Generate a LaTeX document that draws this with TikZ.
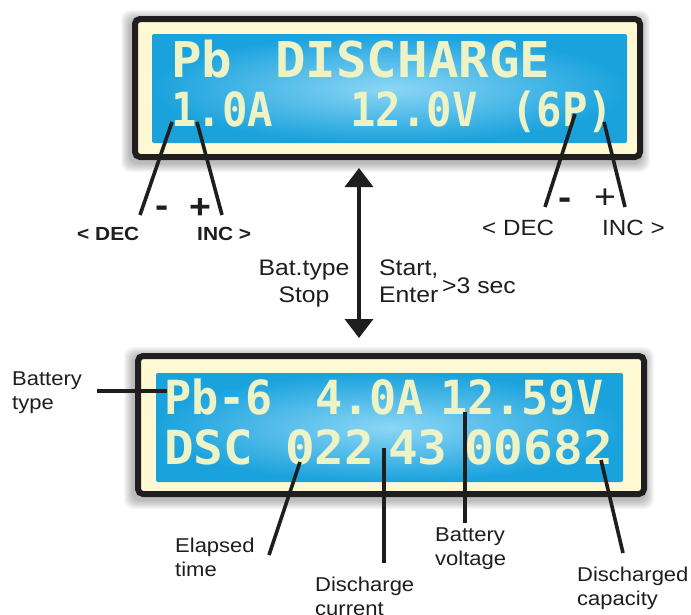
\documentclass[tikz,border=0pt]{standalone}
\usepackage{fontspec}
\setmainfont{Liberation Sans}
\newfontfamily\lblfont[FakeStretch=1.1]{Liberation Sans}
\newfontfamily\lcdfont{DejaVu Sans Mono}
\usetikzlibrary{arrows.meta}

\definecolor{lcdblue}{HTML}{1AA2DD}
\definecolor{lcdglow}{HTML}{8CD6F5}
\definecolor{lcdtext}{HTML}{EEF3C6}
\definecolor{cream}{HTML}{FFF9D3}
\definecolor{bezel}{HTML}{211E1F}
\definecolor{ink}{HTML}{1E1E1E}

\tikzset{
  lcdframe/.style={draw=bezel, line width=6pt, fill=cream, rounded corners=5pt},
  screen/.style={inner color=lcdglow, outer color=lcdblue, rounded corners=2pt},
  lcd/.style={font=\lcdfont\bfseries\fontsize{47}{47}\selectfont, text=lcdtext,
    inner sep=0pt, anchor=base west},
  lead/.style={draw=ink, line width=3.6pt},
  lbl/.style={font=\lblfont\fontsize{20}{24}\selectfont, text=ink, inner sep=0pt,
    align=left, anchor=north west},
  biglbl/.style={lbl, font=\lblfont\fontsize{22.5}{27}\selectfont},
  btnlbl/.style={font=\lblfont\bfseries\fontsize{19}{19}\selectfont, text=ink,
    inner sep=0pt, anchor=base west},
  sign/.style={font=\lblfont\fontsize{34}{34}\selectfont, text=ink, inner sep=0pt,
    anchor=base},
}

\begin{document}
\begin{tikzpicture}[x=1pt, y=-1pt]
  \useasboundingbox[fill=white] (0,0) rectangle (691,614);
  % soft shadows
  \foreach \s in {1,...,9} {
    \fill[black, opacity=.03, rounded corners=9pt] (132-\s-2,16-\s+3) rectangle (643+\s-2,160+\s+3);
    \fill[black, opacity=.03, rounded corners=9pt] (135-\s-2,353-\s+3) rectangle (647+\s-2,497+\s+3);
  }
  % top display
  \draw[lcdframe] (135,19) rectangle (640,157);
  \shade[screen] (152,34) rectangle (627,143);
  \node[lcd, xscale=1.08, yscale=1.05] (pb) at (171,77) {Pb};
  \node[lcd, xscale=1.08, yscale=1.05] (dis) at (275,77) {DISCHARGE};
  \node[lcd, xscale=.9] (cur) at (171,126) {1.0A};
  \node[lcd, xscale=.9] (volt) at (350,126) {12.0V};
  \node[lcd, xscale=.9] (cells) at (511,126) {(6P)};
  % bottom display
  \draw[lcdframe] (138,356) rectangle (644,494);
  \shade[screen] (156,373) rectangle (623,482);
  \node[lcd, xscale=.96] (btype) at (164,414) {Pb-6};
  \node[lcd, xscale=.96] (bcur) at (315,414) {4.0A};
  \node[lcd, xscale=.96] (bvolt) at (440,414) {12.59V};
  \node[lcd, xscale=1.05] (dsc) at (164,464) {DSC};
  \node[lcd, xscale=1.05] (tmin) at (285,464) {022};
  \node[lcd, xscale=1.05] (tsec) at (388,464) {43};
  \node[lcd, xscale=1.05] (cap) at (464,464) {00682};

  % current keys
  \coordinate (decA1) at (172,122);  \coordinate (decA2) at (140,215);
  \coordinate (incA1) at (197,122);  \coordinate (incA2) at (222,215);
  \draw[lead] (decA1) -- (decA2);
  \draw[lead] (incA1) -- (incA2);
  \node[sign, font=\lblfont\bfseries\fontsize{36}{36}\selectfont] (minA) at (162,217) {-};
  \node[sign, font=\lblfont\bfseries\fontsize{34}{34}\selectfont] (plusA) at (200,218) {+};
  \node[btnlbl] (decA) at (77,240) {< DEC};
  \node[btnlbl] (incA) at (197,240) {INC >};
  % cell keys
  \coordinate (decB1) at (575,114);  \coordinate (decB2) at (545,207);
  \coordinate (incB1) at (604,122);  \coordinate (incB2) at (625,207);
  \draw[lead] (decB1) -- (decB2);
  \draw[lead] (incB1) -- (incB2);
  \node[sign, font=\lblfont\bfseries\fontsize{36}{36}\selectfont] (minB) at (565,209) {-};
  \node[sign] (plusB) at (605,208) {+};
  \node[btnlbl, font=\lblfont\fontsize{22}{22}\selectfont] (decB) at (482,235) {< DEC};
  \node[btnlbl, font=\lblfont\fontsize{22}{22}\selectfont] (incB) at (602,235) {INC >};

  % switching between the screens
  \coordinate (arrT) at (359,168);
  \coordinate (arrB) at (359,338);
  \draw[ink, line width=3.5pt, {Triangle[width=28pt,length=19pt]}-{Triangle[width=28pt,length=19pt]}] (arrT) -- (arrB);
  \node[biglbl, align=center, anchor=north] (stop) at (304,260) {Bat.type\\Stop};
  \node[biglbl] (start) at (379,260) {Start,\\Enter};
  \node[biglbl, anchor=base west] (hold) at (442,293) {>3 sec};

  % readout labels
  \node[lbl] (typeLbl) at (12,372) {Battery\\type};
  \node[lbl] (timeLbl) at (175,538) {Elapsed\\time};
  \node[lbl] (curLbl) at (315,577) {Discharge\\current};
  \node[lbl] (voltLbl) at (435,528) {Battery\\voltage};
  \node[lbl] (capLbl) at (577,567) {Discharged\\capacity};
  \coordinate (typeA) at (97,391);   \coordinate (typeB) at (167,391);
  \coordinate (timeA) at (300,462);  \coordinate (timeB) at (269,555);
  \coordinate (curA) at (384,448);   \coordinate (curB) at (384,563);
  \coordinate (voltA) at (465,412);  \coordinate (voltB) at (465,523);
  \coordinate (capA) at (601,460);   \coordinate (capB) at (623,553);
  \draw[lead] (typeA) -- (typeB);
  \draw[lead] (timeA) -- (timeB);
  \draw[lead] (curA) -- (curB);
  \draw[lead] (voltA) -- (voltB);
  \draw[lead] (capA) -- (capB);
\end{tikzpicture}
\end{document}
